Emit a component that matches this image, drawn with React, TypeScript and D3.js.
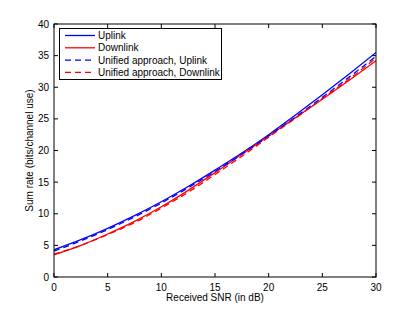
import React from "react";
import * as d3 from "d3";

const snr = [0, 2.5, 5, 7.5, 10, 12.5, 15, 17.5, 20, 22.5, 25, 27.5, 30];
const uplink = [4.3, 5.9, 7.7, 9.7, 11.9, 14.3, 16.9, 19.6, 22.5, 25.6, 28.8, 32.1, 35.5];
const downlink = [3.5, 5.0, 6.8, 8.8, 11.1, 13.7, 16.5, 19.4, 22.3, 25.2, 28.1, 31.1, 34.2];
const unifiedUp = [4.1, 5.7, 7.5, 9.5, 11.7, 14.1, 16.7, 19.4, 22.3, 25.3, 28.4, 31.6, 34.9];
const unifiedDown = [3.6, 5.0, 6.7, 8.6, 10.9, 13.4, 16.2, 19.1, 22.1, 25.1, 28.2, 31.3, 34.6];

const xTicks = [0, 5, 10, 15, 20, 25, 30];
const yTicks = [0, 5, 10, 15, 20, 25, 30, 35, 40];

const seriesList = [
  { name: "Uplink", values: uplink, color: "#0000ff", dash: "" },
  { name: "Downlink", values: downlink, color: "#ff0000", dash: "" },
  { name: "Unified approach, Uplink", values: unifiedUp, color: "#0000ff", dash: "6,4" },
  { name: "Unified approach, Downlink", values: unifiedDown, color: "#ff0000", dash: "6,4" },
];

export default function App() {
  const W = 415, H = 312;
  const left = 54, right = 376, top = 24, bottom = 277;
  const x = d3.scaleLinear().domain([0, 30]).range([left, right]);
  const y = d3.scaleLinear().domain([0, 40]).range([bottom, top]);
  const line = d3
    .line<number>()
    .x((_, i) => x(snr[i]))
    .y((d) => y(d))
    .curve(d3.curveMonotoneX);
  const font = "Liberation Sans, Arial, Helvetica, sans-serif";
  const tl = 4;
  return (
    <svg
      width={W}
      height={H}
      style={{ position: "absolute", left: 0, top: 0, background: "#fff" }}
      fontFamily={font}
    >
      <rect x={0} y={0} width={W} height={H} fill="#fff" />
      <defs>
        <clipPath id="plotclip">
          <rect x={left} y={top} width={right - left} height={bottom - top} />
        </clipPath>
      </defs>
      {seriesList.map((s) => (
        <path
          key={s.name}
          d={line(s.values) || ""}
          fill="none"
          stroke={s.color}
          strokeWidth={1.3}
          strokeDasharray={s.dash || undefined}
          clipPath="url(#plotclip)"
        />
      ))}
      <rect x={left} y={top} width={right - left} height={bottom - top} fill="none" stroke="#000" strokeWidth={1} />
      {xTicks.map((t) => (
        <g key={"x" + t}>
          <line x1={x(t)} x2={x(t)} y1={bottom} y2={bottom - tl} stroke="#000" />
          <line x1={x(t)} x2={x(t)} y1={top} y2={top + tl} stroke="#000" />
          <text x={x(t)} y={bottom + 14} fontSize={10} textAnchor="middle" fill="#000">
            {t}
          </text>
        </g>
      ))}
      {yTicks.map((t) => (
        <g key={"y" + t}>
          <line x1={left} x2={left + tl} y1={y(t)} y2={y(t)} stroke="#000" />
          <line x1={right} x2={right - tl} y1={y(t)} y2={y(t)} stroke="#000" />
          <text x={left - 5} y={y(t) + 3.5} fontSize={10} textAnchor="end" fill="#000">
            {t}
          </text>
        </g>
      ))}
      <text x={(left + right) / 2} y={301} fontSize={10} textAnchor="middle" fill="#000">
        Received SNR (in dB)
      </text>
      <text
        transform={`translate(33, ${(top + bottom) / 2}) rotate(-90)`}
        fontSize={10}
        textAnchor="middle"
        fill="#000"
      >
        Sum rate (bits/channel use)
      </text>
      <g>
        <rect x={59.5} y={28.5} width={162} height={51} fill="#fff" stroke="#000" strokeWidth={1} />
        {seriesList.map((s, i) => {
          const ly = 35.5 + i * 12.3;
          return (
            <g key={"lg" + s.name}>
              <line x1={65} x2={95} y1={ly} y2={ly} stroke={s.color} strokeWidth={1.3} strokeDasharray={s.dash || undefined} />
              <text x={98} y={ly + 3.5} fontSize={10} fill="#000">
                {s.name}
              </text>
            </g>
          );
        })}
      </g>
    </svg>
  );
}
